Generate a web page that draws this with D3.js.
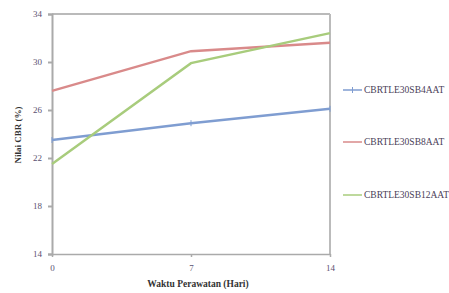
<!DOCTYPE html>
<html>
<head>
<meta charset="utf-8">
<script src="https://cdn.jsdelivr.net/npm/d3@7"></script>
<style>
  body { margin: 0; background: #fff; }
  svg { display: block; font-family: "Liberation Serif", "DejaVu Serif", serif; }
</style>
</head>
<body>
<div id="chart"></div>
<script>
const days = [0, 7, 14];
const yTicks = [14, 18, 22, 26, 30, 34];
const seriesNames = ['CBRTLE30SB4AAT', 'CBRTLE30SB8AAT', 'CBRTLE30SB12AAT'];
const sb4 = [23.5, 24.9, 26.1];
const sb8 = [27.6, 30.9, 31.6];
const sb12 = [21.5, 29.9, 32.4];
const colors = ['#7f9dd1', '#d98a8a', '#a8cc7c'];

const width = 449, height = 293;
const margin = {top: 14, right: 119, bottom: 39, left: 52};

const x = d3.scaleLinear()
    .domain([0, 14])
    .range([margin.left, width - margin.right]);

const y = d3.scaleLinear()
    .domain([14, 34])
    .range([height - margin.bottom, margin.top]);

const svg = d3.select('#chart').append('svg')
    .attr('width', width)
    .attr('height', height);

// frame: dark top, grey right
svg.append('line')
    .attr('x1', x(0)).attr('x2', x(14))
    .attr('y1', y(34)).attr('y2', y(34))
    .attr('stroke', '#777').attr('stroke-width', 1.2);
svg.append('line')
    .attr('x1', x(14)).attr('x2', x(14))
    .attr('y1', y(34)).attr('y2', y(14))
    .attr('stroke', '#bbb').attr('stroke-width', 2);

const yAxis = g => g
    .attr('transform', `translate(${margin.left},0)`)
    .call(d3.axisLeft(y).tickValues(yTicks).tickSize(4).tickPadding(6))
    .call(g => g.selectAll('.domain, .tick line').attr('stroke', '#aaa').attr('stroke-width', 2))
    .call(g => g.selectAll('text').attr('fill', '#5a5070').attr('font-size', 9)
        .attr('font-family', '"Liberation Serif", serif'));

const xAxis = g => g
    .attr('transform', `translate(0,${height - margin.bottom})`)
    .call(d3.axisBottom(x).tickValues(days).tickSize(3).tickPadding(8).tickSizeOuter(0))
    .call(g => g.selectAll('.domain, .tick line').attr('stroke', '#aaa').attr('stroke-width', 1.5))
    .call(g => g.selectAll('text').attr('fill', '#5a5070').attr('font-size', 9)
        .attr('font-family', '"Liberation Serif", serif'));

svg.append('g').call(xAxis);
svg.append('g').call(yAxis);

const line = d3.line()
    .x((d, i) => x(days[i]))
    .y(d => y(d));

const allSeries = [sb4, sb8, sb12];
allSeries.forEach((s, k) => {
    svg.append('path')
        .attr('d', line(s))
        .attr('fill', 'none')
        .attr('stroke', colors[k])
        .attr('stroke-width', 2.4);
});

// small cross markers on the blue series
svg.append('g').selectAll('path')
    .data(sb4)
    .join('path')
    .attr('d', (d, i) => `M${x(days[i])},${y(d) - 3}V${y(d) + 3}`)
    .attr('stroke', colors[0])
    .attr('stroke-width', 1);

// legend
const legendY = [90, 142, 195];
const lg = svg.append('g');
seriesNames.forEach((name, k) => {
    lg.append('line')
        .attr('x1', 343).attr('x2', 362)
        .attr('y1', legendY[k]).attr('y2', legendY[k])
        .attr('stroke', colors[k]).attr('stroke-width', 1.5);
    if (k === 0) {
        lg.append('line')
            .attr('x1', 352.5).attr('x2', 352.5)
            .attr('y1', legendY[k] - 3).attr('y2', legendY[k] + 3)
            .attr('stroke', colors[k]).attr('stroke-width', 1);
    }
    lg.append('text')
        .attr('x', 364).attr('y', legendY[k])
        .attr('dy', '0.35em')
        .attr('font-size', 9.5)
        .attr('fill', '#4a4058')
        .text(name);
});

// axis titles
svg.append('text')
    .attr('x', (x(0) + x(14)) / 2 + 7)
    .attr('y', 287)
    .attr('text-anchor', 'middle')
    .attr('font-size', 9.5)
    .attr('font-weight', 'bold')
    .attr('fill', '#333')
    .text('Waktu Perawatan (Hari)');

svg.append('text')
    .attr('transform', `translate(21,${(y(14) + y(34)) / 2 + 1}) rotate(-90)`)
    .attr('text-anchor', 'middle')
    .attr('font-size', 9)
    .attr('font-weight', 'bold')
    .attr('fill', '#333')
    .text('Nilai CBR (%)');
</script>
</body>
</html>
